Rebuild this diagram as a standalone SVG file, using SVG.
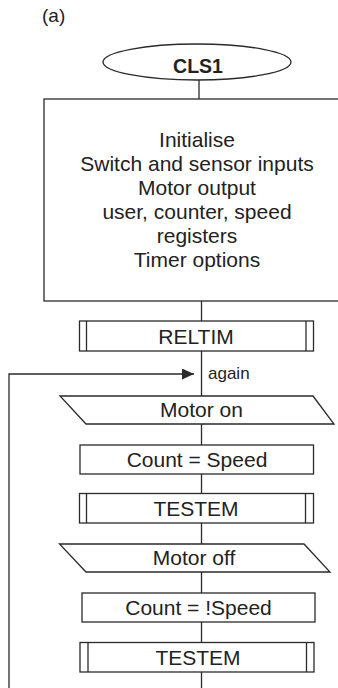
<svg xmlns="http://www.w3.org/2000/svg" width="338" height="688" viewBox="0 0 338 688">
<style>
.s{fill:#fff;stroke:#2a2a2a;stroke-width:1.3}
.l{fill:none;stroke:#2a2a2a;stroke-width:1.3}
.t{font-family:"Liberation Sans",Arial,sans-serif;fill:#222;text-anchor:middle}
.b{font-size:21px}
</style>
<defs>
<marker id="ah" viewBox="0 0 12 11" refX="12" refY="5.5" markerWidth="12" markerHeight="11" markerUnits="userSpaceOnUse" orient="auto">
<path d="M0,0 L12,5.5 L0,11 Z" fill="#2a2a2a"/>
</marker>
</defs>
<text x="42" y="22" font-family="Liberation Sans,Arial,sans-serif" font-size="19" fill="#222">(a)</text>
<g id="connectors">
<line class="l" x1="199" y1="80" x2="199" y2="99"/>
<line class="l" x1="201.5" y1="301" x2="201.5" y2="321"/>
<line class="l" x1="201.5" y1="351" x2="201.5" y2="396"/>
<line class="l" x1="201.5" y1="424" x2="201.5" y2="445"/>
<line class="l" x1="201.5" y1="474" x2="201.5" y2="493"/>
<line class="l" x1="201.5" y1="523" x2="201.5" y2="544"/>
<line class="l" x1="201.5" y1="572" x2="201.5" y2="593"/>
<line class="l" x1="201.5" y1="622" x2="201.5" y2="642"/>
<line class="l" x1="201.5" y1="672" x2="201.5" y2="688"/>
<polyline class="l" points="9,688 9,374 194,374" marker-end="url(#ah)"/>
<text class="t" x="208" y="379" font-size="17" style="text-anchor:start">again</text>
</g>
<g id="cls1">
<ellipse class="s" cx="197" cy="62" rx="94" ry="18"/>
<text class="t" x="198" y="73" font-size="19.5" font-weight="bold">CLS1</text>
</g>
<g id="init">
<rect class="s" x="44" y="99" width="310" height="202"/>
<text class="t b" x="197" y="147">Initialise</text>
<text class="t b" x="197" y="171">Switch and sensor inputs</text>
<text class="t b" x="197" y="195">Motor output</text>
<text class="t b" x="197" y="219">user, counter, speed</text>
<text class="t b" x="197" y="243">registers</text>
<text class="t b" x="197" y="267">Timer options</text>
</g>
<g id="reltim">
<rect class="s" x="79.5" y="321" width="234" height="30"/>
<line class="l" x1="86.5" y1="321" x2="86.5" y2="351"/>
<line class="l" x1="306" y1="321" x2="306" y2="351"/>
<text class="t b" x="196" y="344">RELTIM</text>
</g>
<g id="motor-on">
<polygon class="s" points="60,396 313,396 334,424 86,424"/>
<text class="t b" x="201.5" y="417">Motor on</text>
</g>
<g id="count-speed">
<rect class="s" x="80" y="445" width="233.5" height="29"/>
<text class="t b" x="197" y="467">Count = Speed</text>
</g>
<g id="testem1">
<rect class="s" x="79.5" y="493.5" width="234" height="29.5"/>
<line class="l" x1="86.5" y1="493.5" x2="86.5" y2="523"/>
<line class="l" x1="305.5" y1="493.5" x2="305.5" y2="523"/>
<text class="t b" x="196" y="516">TESTEM</text>
</g>
<g id="motor-off">
<polygon class="s" points="59.5,544 304,544 330,572 86,572"/>
<text class="t b" x="194" y="565">Motor off</text>
</g>
<g id="count-notspeed">
<rect class="s" x="82" y="593" width="233" height="29"/>
<text class="t b" x="198.5" y="615">Count = !Speed</text>
</g>
<g id="testem2">
<rect class="s" x="80" y="642.5" width="234" height="29.5"/>
<line class="l" x1="88" y1="642.5" x2="88" y2="672"/>
<line class="l" x1="306.5" y1="642.5" x2="306.5" y2="672"/>
<text class="t b" x="198" y="665">TESTEM</text>
</g>
</svg>
